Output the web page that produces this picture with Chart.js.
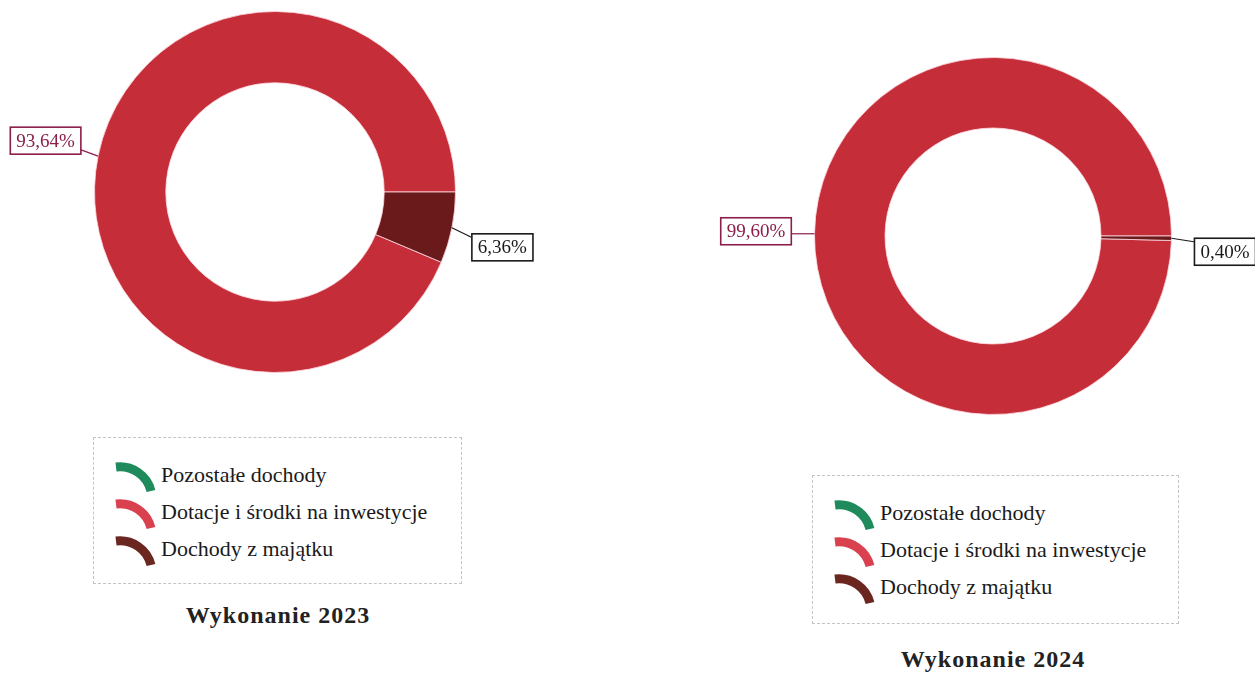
<!DOCTYPE html>
<html>
<head>
<meta charset="utf-8">
<script src="https://cdn.jsdelivr.net/npm/chart.js@4"></script>
<style>
  body { margin: 0; background: #fff; width: 1255px; height: 675px; position: relative; overflow: hidden; font-family: "Liberation Serif", "DejaVu Serif", serif; }
  canvas { position: absolute; }
  .legend { position: absolute; border: 1px dashed #c4c4c4; box-sizing: border-box; padding-top: 18px; }
  .row { height: 37px; line-height: 37px; font-size: 22px; color: #1a1a1a; white-space: nowrap; position: relative; }
  .row svg { position: absolute; left: 21px; top: 4px; }
  .row span { position: absolute; left: 67px; }
  .title { position: absolute; font-weight: bold; font-size: 24px; letter-spacing: 1px; color: #222; text-align: center; width: 400px; }
</style>
</head>
<body>
<canvas id="c2023" width="560" height="430" style="left:0;top:0"></canvas>
<canvas id="c2024" width="565" height="470" style="left:690px;top:0"></canvas>

<div class="legend" id="leg2023" style="left:93px;top:437px;width:369px;height:147px"></div>
<div class="legend" id="leg2024" style="left:812px;top:475px;width:367px;height:149px"></div>

<div class="title" style="left:78px;top:602px">Wykonanie 2023</div>
<div class="title" style="left:793px;top:646px">Wykonanie 2024</div>

<script>
const categories = ['Pozostałe dochody', 'Dotacje i środki na inwestycje', 'Dochody z majątku'];
const values2023 = [0, 93.64, 6.36];
const values2024 = [0, 99.60, 0.40];
const sliceColors = ['#1f8a5b', '#c52d39', '#6b1a1c'];
const legendColors = ['#1f8a5b', '#d9414f', '#6b2620'];
const labelColors = ['#1a1a1a', '#8b1e4a', '#1a1a1a'];

// boxed percentage labels with a leader line from the ring
const boxLabels = {
  id: 'boxLabels',
  afterDatasetsDraw(chart, args, opts) {
    const ctx = chart.ctx;
    const meta = chart.getDatasetMeta(0);
    const data = chart.data.datasets[0].data;
    ctx.save();
    ctx.font = '19px "Liberation Serif", serif';
    ctx.textAlign = 'center';
    ctx.textBaseline = 'middle';
    meta.data.forEach((arc, i) => {
      if (!data[i]) return;
      const mid = (arc.startAngle + arc.endAngle) / 2;
      const ax = arc.x + Math.cos(mid) * arc.outerRadius;
      const ay = arc.y + Math.sin(mid) * arc.outerRadius;
      const off = opts.offsets[i];
      const text = data[i].toFixed(2).replace('.', ',') + '%';
      const w = ctx.measureText(text).width + 12;
      const h = 27;
      const bx = ax + off[0], by = ay + off[1];
      const left = bx - w / 2, top = by - h / 2;
      const ex = bx < ax ? left + w : left;
      const ey = Math.min(Math.max(ay, top + 4), top + h - 4);
      ctx.strokeStyle = labelColors[i];
      ctx.lineWidth = 1.2;
      ctx.beginPath();
      ctx.moveTo(ax, ay);
      ctx.lineTo(ex, ey);
      ctx.stroke();
      ctx.fillStyle = '#fff';
      ctx.fillRect(left, top, w, h);
      ctx.lineWidth = 1.6;
      ctx.strokeRect(left + 0.5, top + 0.5, w, h);
      ctx.fillStyle = labelColors[i];
      ctx.fillText(text, bx + 0.5, by + 1.5);
    });
    ctx.restore();
  }
};

function makeChart(id, values, padding, offsets) {
  return new Chart(document.getElementById(id), {
    type: 'doughnut',
    data: {
      labels: categories,
      datasets: [{
        data: values,
        backgroundColor: sliceColors,
        borderColor: 'rgba(255,220,228,0.8)',
        borderWidth: 1
      }]
    },
    options: {
      responsive: false,
      animation: false,
      cutout: '60.5%',
      rotation: 90 + 3.6 * values[2],
      layout: { padding: padding },
      plugins: {
        legend: { display: false },
        tooltip: { enabled: false },
        boxLabels: { offsets: offsets }
      }
    },
    plugins: [boxLabels]
  });
}

makeChart('c2023', values2023, { left: 94, right: 104, top: 11, bottom: 57 },
  [[0, 0], [-53, -16], [50, 19]]);
makeChart('c2024', values2024, { left: 124, right: 83, top: 57, bottom: 55 },
  [[0, 0], [-59, -3], [53, 13]]);

function buildLegend(id) {
  const box = document.getElementById(id);
  categories.forEach((name, i) => {
    const row = document.createElement('div');
    row.className = 'row';
    row.innerHTML =
      '<svg width="42" height="34" viewBox="0 0 42 34">' +
      '<path d="M1,7 A32,32 0 0 1 36,31" fill="none" stroke="' + legendColors[i] + '" stroke-width="9"/></svg>' +
      '<span></span>';
    row.querySelector('span').textContent = name;
    box.appendChild(row);
  });
}
buildLegend('leg2023');
buildLegend('leg2024');
</script>
</body>
</html>
